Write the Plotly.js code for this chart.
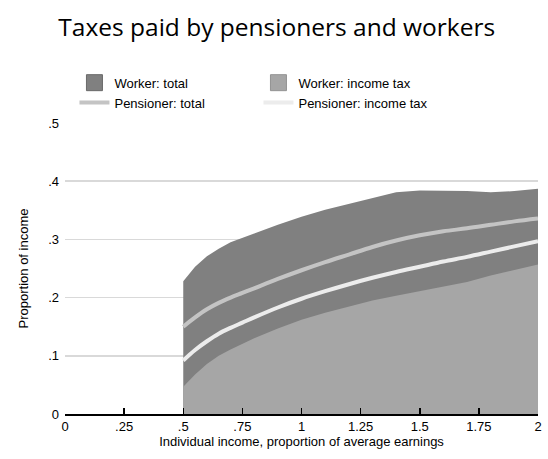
<!DOCTYPE html>
<html>
<head>
<meta charset="utf-8">
<script src="https://cdn.plot.ly/plotly-3.0.1.min.js"></script>
<style>html,body{margin:0;padding:0;background:#fff;}#chart{width:548px;height:459px;}</style>
</head>
<body>
<div id="chart"></div>
<script>
const income = [0.5, 0.55, 0.6, 0.65, 0.7, 0.75, 0.8, 0.9, 1.0, 1.1, 1.2, 1.3, 1.4, 1.5, 1.6, 1.7, 1.8, 1.9, 2.0];
const workerTotal = [0.228, 0.253, 0.271, 0.284, 0.295, 0.303, 0.310, 0.325, 0.339, 0.351, 0.361, 0.370, 0.381, 0.384, 0.384, 0.383, 0.381, 0.383, 0.387];
const workerIncomeTax = [0.047, 0.068, 0.086, 0.100, 0.111, 0.121, 0.130, 0.147, 0.162, 0.174, 0.185, 0.195, 0.203, 0.211, 0.219, 0.227, 0.238, 0.248, 0.257];
const pensionerTotal = [0.150, 0.166, 0.180, 0.191, 0.200, 0.208, 0.216, 0.232, 0.247, 0.261, 0.274, 0.287, 0.298, 0.307, 0.314, 0.319, 0.325, 0.331, 0.336];
const pensionerIncomeTax = [0.092, 0.110, 0.125, 0.138, 0.148, 0.157, 0.166, 0.183, 0.198, 0.211, 0.223, 0.234, 0.244, 0.253, 0.262, 0.270, 0.279, 0.288, 0.297];
const xTickVals = [0, 0.25, 0.5, 0.75, 1, 1.25, 1.5, 1.75, 2];
const xTickText = ['0', '.25', '.5', '.75', '1', '1.25', '1.5', '1.75', '2'];
const yTickVals = [0, 0.1, 0.2, 0.3, 0.4, 0.5];
const yTickText = ['0', '.1', '.2', '.3', '.4', '.5'];
const seriesNames = ['Worker: total', 'Worker: income tax', 'Pensioner: total', 'Pensioner: income tax'];
const seriesColors = ['#808080', '#a6a6a6', '#c4c4c4', '#ececec'];

const axisFont = {family: 'Liberation Sans, Arial, sans-serif', size: 13, color: '#000'};

const traces = [
  {x: income, y: workerTotal, name: seriesNames[0], type: 'scatter', mode: 'lines', showlegend: false,
   fill: 'tozeroy', fillcolor: seriesColors[0], line: {width: 0, color: seriesColors[0]}, hoverinfo: 'skip'},
  {x: income, y: workerIncomeTax, name: seriesNames[1], type: 'scatter', mode: 'lines', showlegend: false,
   fill: 'tozeroy', fillcolor: seriesColors[1], line: {width: 0, color: seriesColors[1]}, hoverinfo: 'skip'},
  {x: [null], y: [null], name: seriesNames[0], type: 'scatter', mode: 'markers', legendrank: 1,
   marker: {symbol: 'square', size: 16, color: seriesColors[0], line: {width: 1, color: '#6a6a6a'}}},
  {x: [null], y: [null], name: seriesNames[1], type: 'scatter', mode: 'markers', legendrank: 2,
   marker: {symbol: 'square', size: 16, color: seriesColors[1], line: {width: 1, color: '#939393'}}},
  {x: income, y: pensionerTotal, name: seriesNames[2], type: 'scatter', mode: 'lines', legendrank: 3,
   line: {width: 4, color: seriesColors[2], shape: 'spline'}},
  {x: income, y: pensionerIncomeTax, name: seriesNames[3], type: 'scatter', mode: 'lines', legendrank: 4,
   line: {width: 4, color: seriesColors[3], shape: 'spline'}}
];

const layout = {
  width: 548, height: 459,
  margin: {l: 65, r: 10, t: 123, b: 45},
  paper_bgcolor: '#fff', plot_bgcolor: '#fff',
  title: {text: 'Taxes paid by pensioners and workers', x: 0.505, xanchor: 'center', y: 0.94, yanchor: 'middle',
          font: {family: 'Open Sans, sans-serif', size: 24.5, color: '#000'}},
  showlegend: true,
  legend: {orientation: 'h', x: 0.02, xanchor: 'left', y: 1.19, yanchor: 'top',
           entrywidth: 139, entrywidthmode: 'pixels', traceorder: 'normal',
           font: {family: 'Liberation Sans, Arial, sans-serif', size: 13, color: '#000'},
           bgcolor: 'rgba(0,0,0,0)'},
  xaxis: {range: [0, 2], tickvals: xTickVals, ticktext: xTickText, ticks: 'inside', ticklen: 6,
          tickcolor: '#000', tickwidth: 1.5, showline: true, linecolor: '#000', linewidth: 1.5,
          showgrid: false, zeroline: false, tickfont: axisFont,
          title: {text: 'Individual income, proportion of average earnings', font: axisFont, standoff: 2}},
  yaxis: {range: [0, 0.5], tickvals: yTickVals, ticktext: yTickText, ticks: '', showline: false,
          showgrid: true, gridcolor: '#d9d9d9', gridwidth: 1.5, zeroline: false, tickfont: axisFont,
          ticklabelstandoff: 5,
          title: {text: 'Proportion of income', font: axisFont, standoff: 16}}
};

Plotly.newPlot('chart', traces, layout, {displayModeBar: false, staticPlot: true});
</script>
</body>
</html>
